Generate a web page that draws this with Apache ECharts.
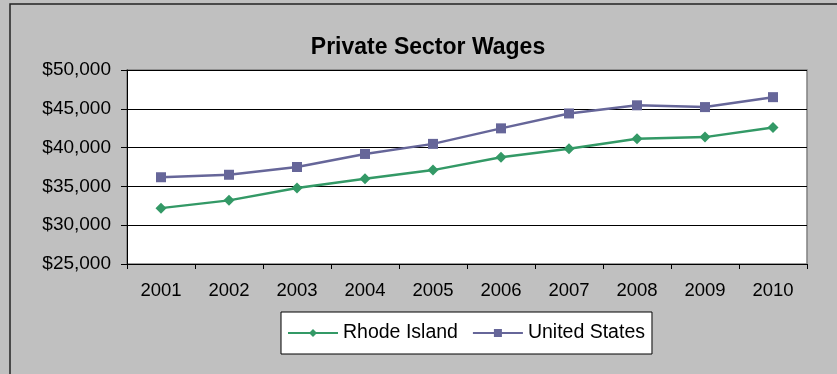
<!DOCTYPE html>
<html>
<head>
<meta charset="utf-8">
<script src="https://cdn.jsdelivr.net/npm/echarts@6/dist/echarts.min.js"></script>
<style>
html,body{margin:0;padding:0;background:#c0c0c0;}
#chart{width:837px;height:374px;}
</style>
</head>
<body>
<div id="chart"></div>
<script>
var years = ['2001','2002','2003','2004','2005','2006','2007','2008','2009','2010'];
var rhodeIsland = [32200, 33200, 34800, 36000, 37100, 38750, 39850, 41130, 41350, 42580];
var unitedStates = [36180, 36500, 37500, 39180, 40480, 42480, 44400, 45450, 45220, 46500];
var yTicks = [25000, 30000, 35000, 40000, 45000, 50000];

var chart = echarts.init(document.getElementById('chart'), null, {renderer: 'canvas'});
var fmt = function (v) { return '$' + v.toLocaleString('en-US'); };
var FF = 'Liberation Sans, Arial, sans-serif';
chart.setOption({
  backgroundColor: '#c0c0c0',
  animation: false,
  textStyle: {fontFamily: FF},
  graphic: [{
    type: 'rect', z: -10,
    shape: {x: 10, y: 4, width: 900, height: 500},
    style: {fill: '#c0c0c0', stroke: '#222', lineWidth: 1.5}
  }],
  title: {
    text: 'Private Sector Wages',
    left: 423, top: 31, textAlign: 'center',
    textStyle: {fontFamily: FF, fontSize: 23, fontWeight: 'bold', color: '#000'}
  },
  grid: {
    left: 127, right: 30, top: 70, bottom: 110,
    show: true, backgroundColor: '#fff', borderColor: '#808080', borderWidth: 1.5
  },
  legend: {
    left: 281, top: 312,
    padding: [11, 7, 11, 6],
    itemWidth: 50, itemHeight: 10, itemGap: 14,
    backgroundColor: '#fff', borderColor: '#000', borderWidth: 1,
    textStyle: {fontFamily: FF, fontSize: 19.5, color: '#000'},
    data: ['Rhode Island', 'United States']
  },
  xAxis: {
    type: 'category', data: years, boundaryGap: true,
    axisLine: {lineStyle: {color: '#000', width: 1}},
    axisTick: {show: true, length: 5, lineStyle: {color: '#000'}},
    axisLabel: {color: '#000', fontSize: 18.5, margin: 17, fontFamily: FF},
    splitLine: {show: false}
  },
  yAxis: {
    type: 'value', min: yTicks[0], max: yTicks[yTicks.length - 1], interval: 5000,
    axisLine: {show: true, lineStyle: {color: '#000', width: 1}},
    axisTick: {show: true, length: 6, lineStyle: {color: '#000'}},
    axisLabel: {color: '#000', fontSize: 19, margin: 16, formatter: fmt, fontFamily: FF},
    splitLine: {show: true, lineStyle: {color: '#000', width: 1}}
  },
  series: [{
    name: 'Rhode Island', type: 'line', data: rhodeIsland,
    symbol: 'diamond', symbolSize: 11,
    lineStyle: {color: '#339966', width: 2.5},
    itemStyle: {color: '#339966'}
  }, {
    name: 'United States', type: 'line', data: unitedStates,
    symbol: 'rect', symbolSize: 10,
    lineStyle: {color: '#666699', width: 2.5},
    itemStyle: {color: '#666699'}
  }]
});
</script>
</body>
</html>
